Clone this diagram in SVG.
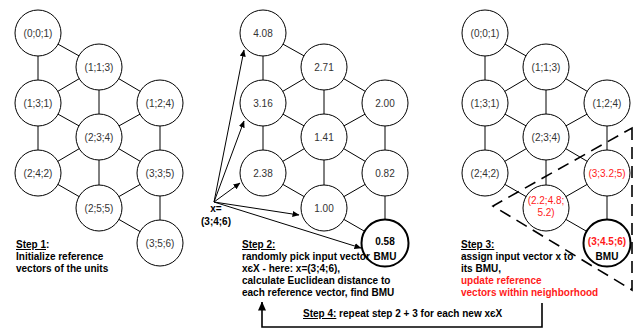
<svg xmlns="http://www.w3.org/2000/svg" xmlns:xlink="http://www.w3.org/1999/xlink" width="637" height="330" viewBox="0 0 637 330">
<style>
.n{fill:#fff;stroke:#000;stroke-width:1}
.bmu{fill:#fff;stroke:#000;stroke-width:2}
.t{font-family:"Liberation Sans",Arial,sans-serif;font-size:10px;fill:#333;text-anchor:middle}
.r{fill:#ff1a1a}
.b{font-weight:bold;fill:#000}
.s{font-family:"Liberation Sans",Arial,sans-serif;font-size:10px;font-weight:bold;fill:#000}
.e{stroke:#000;stroke-width:1;fill:none}
.a{stroke:#000;stroke-width:1;fill:none;marker-end:url(#ah)}
</style>
<defs>
<marker id="ah" markerWidth="7" markerHeight="6" refX="6.5" refY="3" orient="auto" markerUnits="userSpaceOnUse"><path d="M0,0 L7,3 L0,6 z" fill="#000"/></marker>
<marker id="ah2" markerWidth="9" markerHeight="8" refX="8.5" refY="4" orient="auto" markerUnits="userSpaceOnUse"><path d="M0,0 L9,4 L0,8 z" fill="#000"/></marker>
<path id="grid" d="M38,33L99,67M38,33L38,103M99,67L38,103M99,67L160,103M99,67L99,137M38,103L99,137M160,103L99,137M38,103L38,173M160,103L160,173M99,137L38,173M99,137L160,173M99,137L99,208M38,173L99,208M160,173L99,208M160,173L160,243M99,208L160,243"/>
</defs>
<rect width="637" height="330" fill="#fff"/>
<g id="connectors">
<use xlink:href="#grid" class="e"/>
<use xlink:href="#grid" class="e" x="225"/>
<use xlink:href="#grid" class="e" x="447"/>
<path class="a" d="M214,202L244,50"/>
<path class="a" d="M214,202L244,121"/>
<path class="a" d="M214,202L240,183"/>
<path class="a" d="M214,202L299,215"/>
<path class="a" d="M214,202L361,248"/>
<path d="M542,303L542,327L262,327L262,302" fill="none" stroke="#000" stroke-width="1.6" marker-end="url(#ah2)"/>
</g>
<!-- Panel 1 -->
<g id="p1-001"><circle class="n" cx="38" cy="33" r="23"/><text class="t" x="38" y="36.5">(0;0;1)</text></g>
<g id="p1-113"><circle class="n" cx="99" cy="67" r="23"/><text class="t" x="99" y="70.5">(1;1;3)</text></g>
<g id="p1-131"><circle class="n" cx="38" cy="103" r="23"/><text class="t" x="38" y="106.5">(1;3;1)</text></g>
<g id="p1-124"><circle class="n" cx="160" cy="103" r="23"/><text class="t" x="160" y="106.5">(1;2;4)</text></g>
<g id="p1-234"><circle class="n" cx="99" cy="137" r="23"/><text class="t" x="99" y="140.5">(2;3;4)</text></g>
<g id="p1-242"><circle class="n" cx="38" cy="173" r="23"/><text class="t" x="38" y="176.5">(2;4;2)</text></g>
<g id="p1-335"><circle class="n" cx="160" cy="173" r="23"/><text class="t" x="160" y="176.5">(3;3;5)</text></g>
<g id="p1-255"><circle class="n" cx="99" cy="208" r="23"/><text class="t" x="99" y="211.5">(2;5;5)</text></g>
<g id="p1-356"><circle class="n" cx="160" cy="243" r="23"/><text class="t" x="160" y="246.5">(3;5;6)</text></g>
<!-- Panel 2 -->
<g id="p2-a"><circle class="n" cx="263" cy="33" r="23"/><text class="t" x="263" y="36.5">4.08</text></g>
<g id="p2-b"><circle class="n" cx="324" cy="67" r="23"/><text class="t" x="324" y="70.5">2.71</text></g>
<g id="p2-c"><circle class="n" cx="263" cy="103" r="23"/><text class="t" x="263" y="106.5">3.16</text></g>
<g id="p2-d"><circle class="n" cx="385" cy="103" r="23"/><text class="t" x="385" y="106.5">2.00</text></g>
<g id="p2-e"><circle class="n" cx="324" cy="137" r="23"/><text class="t" x="324" y="140.5">1.41</text></g>
<g id="p2-f"><circle class="n" cx="263" cy="173" r="23"/><text class="t" x="263" y="176.5">2.38</text></g>
<g id="p2-g"><circle class="n" cx="385" cy="173" r="23"/><text class="t" x="385" y="176.5">0.82</text></g>
<g id="p2-h"><circle class="n" cx="324" cy="208" r="23"/><text class="t" x="324" y="211.5">1.00</text></g>
<g id="p2-bmu"><circle class="bmu" cx="385" cy="243" r="23.5"/><text class="t b" x="385" y="244.5">0.58</text><text class="t b" x="385" y="260">BMU</text></g>
<g id="p2-x"><text class="t b" x="216" y="212">x=</text><text class="t b" x="216" y="225">(3;4;6)</text></g>
<!-- Panel 3 -->
<g id="p3-001"><circle class="n" cx="485" cy="33" r="23"/><text class="t" x="485" y="36.5">(0;0;1)</text></g>
<g id="p3-113"><circle class="n" cx="546" cy="67" r="23"/><text class="t" x="546" y="70.5">(1;1;3)</text></g>
<g id="p3-131"><circle class="n" cx="485" cy="103" r="23"/><text class="t" x="485" y="106.5">(1;3;1)</text></g>
<g id="p3-124"><circle class="n" cx="607" cy="103" r="23"/><text class="t" x="607" y="106.5">(1;2;4)</text></g>
<g id="p3-234"><circle class="n" cx="546" cy="137" r="23"/><text class="t" x="546" y="140.5">(2;3;4)</text></g>
<g id="p3-242"><circle class="n" cx="485" cy="173" r="23"/><text class="t" x="485" y="176.5">(2;4;2)</text></g>
<g id="p3-335"><circle class="n" cx="607" cy="173" r="23"/><text class="t r" x="607" y="176.5">(3;3.2;5)</text></g>
<g id="p3-255"><circle class="n" cx="546" cy="208" r="23"/><text class="t r" x="546" y="203.5">(2.2;4.8;</text><text class="t r" x="546" y="215.5">5.2)</text></g>
<g id="p3-bmu"><circle class="bmu" cx="607" cy="243" r="23.5"/><text class="t b" x="607" y="244.5" fill="#ff1a1a" style="fill:#ff1a1a">(3;4.5;6)</text><text class="t b" x="607" y="260">BMU</text></g>
<g id="neighborhood"><path d="M632,128L632,290L493,206Z" fill="none" stroke="#000" stroke-width="1.6" stroke-dasharray="12,7"/></g>
<!-- Step texts -->
<g id="step1"><text class="s" x="16" y="248"><tspan text-decoration="underline">Step 1</tspan>:</text><text class="s" x="16" y="260">Initialize reference</text><text class="s" x="16" y="272">vectors of the units</text></g>
<g id="step2"><text class="s" x="242" y="248" text-decoration="underline">Step 2:</text><text class="s" x="242" y="260">randomly pick input vector</text><text class="s" x="242" y="272">xєX - here: x=(3;4;6),</text><text class="s" x="242" y="284">calculate Euclidean distance to</text><text class="s" x="242" y="296">each reference vector, find BMU</text></g>
<g id="step3"><text class="s" x="461" y="248" text-decoration="underline">Step 3:</text><text class="s" x="461" y="260">assign input vector x to</text><text class="s" x="461" y="272">its BMU,</text><text class="s" x="461" y="284" style="fill:#ff1a1a">update reference</text><text class="s" x="461" y="296" style="fill:#ff1a1a">vectors within neighborhood</text></g>
<g id="step4"><text class="s" x="303" y="317"><tspan text-decoration="underline">Step 4:</tspan> repeat step 2 + 3 for each new xєX</text></g>
</svg>
